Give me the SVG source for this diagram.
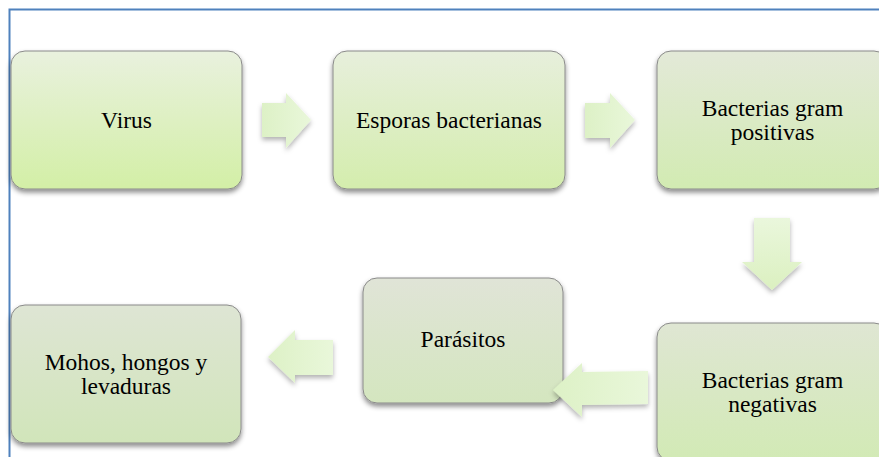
<svg xmlns="http://www.w3.org/2000/svg" width="879" height="457" viewBox="0 0 879 457">
<defs>
<linearGradient id="gV" x1="0" y1="0" x2="0" y2="1"><stop offset="0" stop-color="#e9f1de"/><stop offset="1" stop-color="#d3efa6"/></linearGradient>
<linearGradient id="gE" x1="0" y1="0" x2="0" y2="1"><stop offset="0" stop-color="#e7efdc"/><stop offset="1" stop-color="#d4edad"/></linearGradient>
<linearGradient id="gP" x1="0" y1="0" x2="0" y2="1"><stop offset="0" stop-color="#e3e9d8"/><stop offset="1" stop-color="#d2ebb2"/></linearGradient>
<linearGradient id="gN" x1="0" y1="0" x2="0" y2="1"><stop offset="0" stop-color="#dfe6d3"/><stop offset="1" stop-color="#d2eab5"/></linearGradient>
<linearGradient id="gR" x1="0" y1="0" x2="0" y2="1"><stop offset="0" stop-color="#e0e4d7"/><stop offset="1" stop-color="#d4e6bf"/></linearGradient>
<linearGradient id="gM" x1="0" y1="0" x2="0" y2="1"><stop offset="0" stop-color="#dee5d4"/><stop offset="1" stop-color="#d1e5ba"/></linearGradient>
<linearGradient id="gA" x1="0" y1="0" x2="1" y2="0"><stop offset="0" stop-color="#ddf1c6"/><stop offset="1" stop-color="#e9f7da"/></linearGradient>
<linearGradient id="gD" x1="0" y1="0" x2="0" y2="1"><stop offset="0" stop-color="#eaf7dc"/><stop offset="1" stop-color="#dbf0c0"/></linearGradient>
<filter id="sh" x="-10%" y="-10%" width="130%" height="130%"><feDropShadow dx="0" dy="3" stdDeviation="2.5" flood-color="#000" flood-opacity="0.45"/></filter>
<filter id="ash" x="-20%" y="-20%" width="150%" height="150%"><feDropShadow dx="0" dy="3" stdDeviation="2.5" flood-color="#000" flood-opacity="0.3"/></filter>
</defs>
<style>
.box{stroke:#8a8a8a;stroke-width:1;filter:url(#sh)}
.t{font-family:'Liberation Serif','Times New Roman',serif;font-size:23.5px;fill:#000;text-anchor:middle}
.arr{filter:url(#ash)}
</style>
<rect width="879" height="457" fill="#ffffff"/>
<g id="frame"><path d="M9.5 457 V9.5 H879" fill="none" stroke="#4f81bd" stroke-width="2"/></g>
<g id="n1"><rect class="box" x="11" y="51" width="231" height="138" rx="14" fill="url(#gV)"/><text class="t" x="126.5" y="128">Virus</text></g>
<g id="n2"><rect class="box" x="333" y="51" width="232" height="138" rx="14" fill="url(#gE)"/><text class="t" x="449" y="128">Esporas bacterianas</text></g>
<g id="n3"><rect class="box" x="657" y="51" width="231" height="138" rx="14" fill="url(#gP)"/><text class="t" x="772.5" y="116">Bacterias gram</text><text class="t" x="772.5" y="140">positivas</text></g>
<g id="n4"><rect class="box" x="657" y="323" width="231" height="138" rx="14" fill="url(#gN)"/><text class="t" x="772.5" y="388">Bacterias gram</text><text class="t" x="772.5" y="412">negativas</text></g>
<g id="n5"><rect class="box" x="363" y="278" width="200" height="125" rx="14" fill="url(#gR)"/><text class="t" x="463" y="347">Parásitos</text></g>
<g id="n6"><rect class="box" x="11" y="305" width="230" height="138" rx="14" fill="url(#gM)"/><text class="t" x="126" y="370">Mohos, hongos y</text><text class="t" x="126" y="394">levaduras</text></g>
<g id="connectors">
<polygon class="arr" points="262,103 286,103 286,93 311,120 286,148 286,137 262,137" fill="url(#gA)"/>
<polygon class="arr" points="585,103 610,103 610,93 635,120 610,148 610,138 585,138" fill="url(#gA)"/>
<polygon class="arr" points="754,218 790,218 790,262 802,262 772,290 742,262 754,262" fill="url(#gD)"/>
<polygon class="arr" points="648,371 582,372 582,363 553,390 582,417 582,405 648,404" fill="url(#gA)"/>
<polygon class="arr" points="333,340 295,340 295,330 268,357 295,383 295,375 333,375" fill="url(#gA)"/>
</g>
</svg>
